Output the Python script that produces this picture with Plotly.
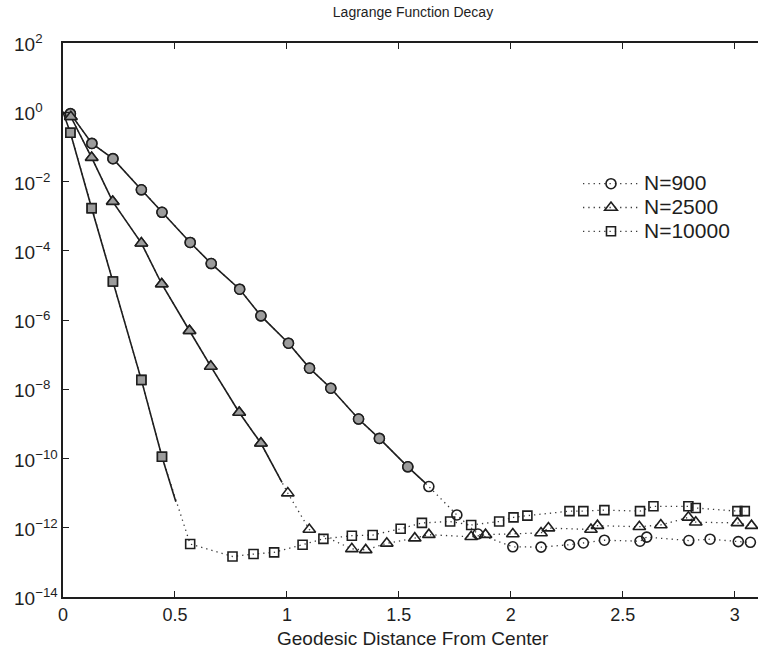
import numpy as np
import plotly.graph_objects as go

# ---------------- data ----------------
# N = 900 (circles)
dist_900 = [0.033, 0.129, 0.223, 0.35, 0.442, 0.568, 0.662, 0.789, 0.884, 1.007,
            1.101, 1.196, 1.32, 1.413, 1.54, 1.634, 1.759, 1.853, 2.009, 2.135,
            2.262, 2.324, 2.418, 2.577, 2.607, 2.795, 2.89, 3.016, 3.07]
log10_900 = [-0.04, -0.90, -1.34, -2.24, -2.89, -3.76, -4.37, -5.11, -5.88, -6.67,
             -7.39, -7.97, -8.86, -9.42, -10.24, -10.81, -11.63, -12.18, -12.55, -12.56,
             -12.49, -12.44, -12.36, -12.39, -12.27, -12.37, -12.33, -12.40, -12.42]
n_decay_900 = 15

# N = 2500 (triangles)
dist_2500 = [0.035, 0.128, 0.222, 0.35, 0.441, 0.565, 0.66, 0.787, 0.884, 1.004,
             1.1, 1.29, 1.352, 1.446, 1.571, 1.634, 1.823, 1.887, 2.009, 2.135,
             2.168, 2.358, 2.387, 2.574, 2.67, 2.793, 2.826, 3.012, 3.075]
log10_2500 = [-0.13, -1.31, -2.58, -3.78, -4.96, -6.31, -7.34, -8.67, -9.56, -11.0,
              -12.05, -12.61, -12.64, -12.45, -12.30, -12.20, -12.26, -12.20, -12.18, -12.15,
              -12.01, -12.05, -11.94, -11.97, -11.92, -11.70, -11.84, -11.86, -11.94]
n_decay_2500 = 9

# N = 10000 (squares)
dist_10000 = [0.033, 0.128, 0.223, 0.35, 0.442, 0.568, 0.757, 0.851, 0.943, 1.07,
              1.163, 1.29, 1.383, 1.508, 1.603, 1.729, 1.823, 1.948, 2.012, 2.074,
              2.262, 2.324, 2.418, 2.577, 2.637, 2.793, 2.826, 3.012, 3.045]
log10_10000 = [-0.59, -2.77, -4.89, -7.73, -9.95, -12.47, -12.83, -12.76, -12.71, -12.49,
               -12.32, -12.23, -12.21, -12.03, -11.86, -11.82, -11.92, -11.82, -11.70, -11.65,
               -11.52, -11.52, -11.49, -11.52, -11.38, -11.38, -11.43, -11.52, -11.52]
n_decay_10000 = 5

# solid decay-curve start (center) and end points
decay_start = (0.0, 0.0)
decay_end_900 = (1.62, -10.72)
decay_end_2500 = (0.978, -10.69)
decay_end_10000 = (0.504, -11.25)

series_names = ["N=900", "N=2500", "N=10000"]
x_ticks = [0, 0.5, 1, 1.5, 2, 2.5, 3]
y_tick_exps = [2, 0, -2, -4, -6, -8, -10, -12, -14]

# ---------------- figure ----------------
FONT = "Liberation Sans, Arial, Helvetica, sans-serif"
INK = "#1e1e1e"
FILL = "#9c9c9c"
DOT = "#3a3a3a"

W, H = 758, 650
L, T, B = 63, 43, 53
PLOT_W = W - L
PLOT_H = H - T - B

series = [
    (series_names[0], dist_900, log10_900, n_decay_900, decay_end_900, "circle", 10),
    (series_names[1], dist_2500, log10_2500, n_decay_2500, decay_end_2500, "triangle-up", 11),
    (series_names[2], dist_10000, log10_10000, n_decay_10000, decay_end_10000, "square", 9),
]

fig = go.Figure()

# dotted lines with open markers (all points)
for name, xs, ls, nd, end, sym, sz in series:
    vals = (10.0 ** np.array(ls)).tolist()
    fig.add_trace(go.Scatter(
        x=xs, y=vals, mode="lines+markers",
        name="<span style='font-size:21px'>%s</span>" % name,
        line=dict(color=DOT, width=1.3, dash="1.3px,4px"),
        marker=dict(symbol=sym + "-open", size=sz, color=INK, line=dict(width=1.6, color=INK)),
        showlegend=True,
    ))

# solid decay curves
for name, xs, ls, nd, end, sym, sz in series:
    sx = [decay_start[0]] + xs[:nd] + [end[0]]
    sl = [decay_start[1]] + ls[:nd] + [end[1]]
    fig.add_trace(go.Scatter(
        x=sx, y=(10.0 ** np.array(sl)).tolist(), mode="lines",
        line=dict(color=INK, width=1.6), showlegend=False, hoverinfo="skip",
    ))

# filled markers for decaying part
for name, xs, ls, nd, end, sym, sz in series:
    fig.add_trace(go.Scatter(
        x=xs[:nd], y=(10.0 ** np.array(ls[:nd])).tolist(), mode="markers",
        marker=dict(symbol=sym, size=sz, color=FILL, line=dict(width=1.5, color=INK)),
        showlegend=False,
    ))

# left-aligned y tick labels (as in the original)
annotations = []
for e in y_tick_exps:
    annotations.append(dict(
        text=("10<sup>%d</sup>" % e).replace("-", "\u2212"),
        xref="paper", yref="y", x=(12 - L) / PLOT_W, y=e,
        xanchor="left", yanchor="middle", showarrow=False,
        font=dict(size=19, family=FONT, color=INK)))
annotations.append(dict(
    text="Geodesic Distance From Center", xref="paper", yref="paper",
    x=(413 - L) / PLOT_W, y=-(638 - (H - B)) / PLOT_H, xanchor="center", yanchor="middle",
    showarrow=False, font=dict(size=19, family=FONT, color=INK)))

fig.update_layout(
    width=W, height=H,
    margin=dict(l=L, r=0, t=T, b=B, autoexpand=False),
    paper_bgcolor="white", plot_bgcolor="white",
    font=dict(family=FONT, color=INK, size=18),
    title=dict(text="Lagrange Function Decay", font=dict(size=14, family=FONT, color=INK),
               xref="paper", x=(413 - L) / PLOT_W, xanchor="center",
               yref="container", y=1 - 12 / H, yanchor="middle"),
    showlegend=True,
    legend=dict(x=0.741, y=0.7765, xanchor="left", yanchor="top",
                bgcolor="rgba(0,0,0,0)", font=dict(size=16, family=FONT, color=INK),
                tracegroupgap=0, itemwidth=56),
    xaxis=dict(range=[0, 3.104], tickvals=x_ticks, ticktext=[str(t) for t in x_ticks],
               ticks="inside", ticklen=6, tickwidth=1, tickcolor=INK,
               showline=True, linecolor=INK, linewidth=1.5, mirror="ticks",
               showgrid=False, zeroline=False, automargin=False,
               tickfont=dict(size=18), ticklabelstandoff=1),
    yaxis=dict(type="log", range=[-14, 2],
               tickvals=[10.0 ** e for e in y_tick_exps], showticklabels=False,
               ticks="inside", ticklen=6, tickwidth=1, tickcolor=INK,
               showline=True, linecolor=INK, linewidth=1.5, mirror=False,
               showgrid=False, zeroline=False, automargin=False),
    annotations=annotations,
)

# remove the default 8px page margin so the figure sits at the window's corner
fig.write_html("out.html", config={"displayModeBar": False},
               post_script="document.body.style.margin='0';document.body.style.overflow='hidden';")
